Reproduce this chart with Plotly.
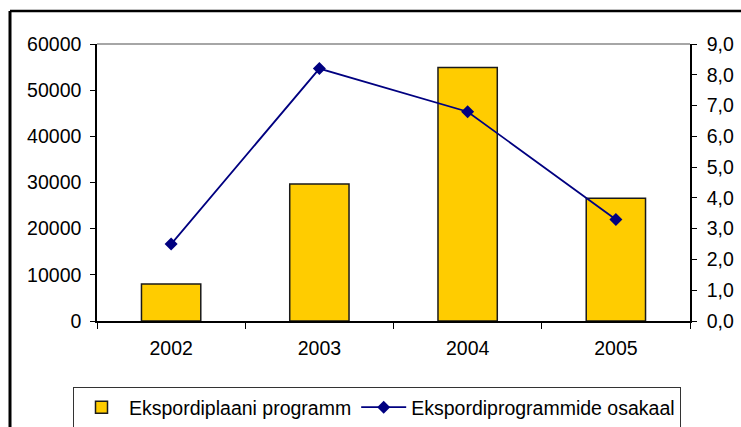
import plotly.graph_objects as go

years = ["2002", "2003", "2004", "2005"]
program_counts = [8000, 29700, 54900, 26600]
program_share = [2.5, 8.2, 6.8, 3.3]

bar_name = "Ekspordiplaani programm"
line_name = "Ekspordiprogrammide osakaal"

FONT = "Liberation Sans, Arial, sans-serif"

fig = go.Figure()
fig.add_trace(
    go.Bar(
        x=years,
        y=program_counts,
        name=bar_name,
        marker={"color": "#FFCC00", "line": {"color": "#1a1a1a", "width": 1.5}},
        width=0.4,
    )
)
fig.add_trace(
    go.Scatter(
        x=years,
        y=program_share,
        name=line_name,
        yaxis="y2",
        mode="lines+markers",
        line={"color": "#000080", "width": 1.8},
        marker={"symbol": "diamond", "size": 10, "color": "#000080"},
    )
)

W, H = 741, 427
# plot area in pixels: x 97..690, y 44..321
L, T = 97, 44
R = W - 690
B = H - 321
pw, ph = W - L - R, H - T - B


def px_x(v):
    return (v - L) / pw


def px_y(v):
    return (H - B - v) / ph


axis_common = {
    "showline": True,
    "linecolor": "black",
    "linewidth": 1.5,
    "ticks": "outside",
    "tickcolor": "black",
    "showgrid": False,
    "automargin": False,
}

fig.update_layout(
    width=W,
    height=H,
    margin={"l": L, "r": R, "t": T, "b": B, "autoexpand": False},
    paper_bgcolor="white",
    plot_bgcolor="white",
    separators=",.",
    font={"family": FONT, "size": 19.5, "color": "black"},
    showlegend=True,
    legend={
        "orientation": "h",
        "x": px_x(73),
        "y": px_y(387),
        "xanchor": "left",
        "yanchor": "top",
        "bordercolor": "#333333",
        "borderwidth": 1,
        "font": {"size": 19.5},
        "itemwidth": 45,
        "traceorder": "normal",
    },
    xaxis={**axis_common, "tickson": "boundaries", "ticklen": 6, "ticklabelstandoff": 9},
    yaxis={
        **axis_common,
        "range": [0, 60000],
        "dtick": 10000,
        "tickformat": "d",
        "ticklen": 5,
        "zeroline": False,
        "ticklabelstandoff": 5,
    },
    yaxis2={
        **axis_common,
        "range": [0, 9],
        "dtick": 1,
        "tickformat": ".1f",
        "overlaying": "y",
        "side": "right",
        "ticklen": 5,
        "zeroline": False,
        "ticklabelstandoff": 6,
    },
    shapes=[
        # grey top border of plot area
        {"type": "line", "xref": "paper", "yref": "paper", "x0": 0, "x1": 1, "y0": 1, "y1": 1,
         "line": {"color": "#888888", "width": 1.5}},
        # outer chart frame (left and top edges)
        {"type": "line", "xref": "paper", "yref": "paper", "x0": px_x(10), "x1": px_x(10),
         "y0": px_y(11), "y1": px_y(450), "line": {"color": "black", "width": 3}},
        {"type": "line", "xref": "paper", "yref": "paper", "x0": px_x(10), "x1": px_x(770),
         "y0": px_y(11), "y1": px_y(11), "line": {"color": "black", "width": 2.5}},
    ],
)

# drop the default page margin so the figure sits at the window origin
fig.write_html(
    "out.html",
    config={"displayModeBar": False},
    post_script="document.body.style.margin='0';document.body.style.overflow='hidden';",
)
